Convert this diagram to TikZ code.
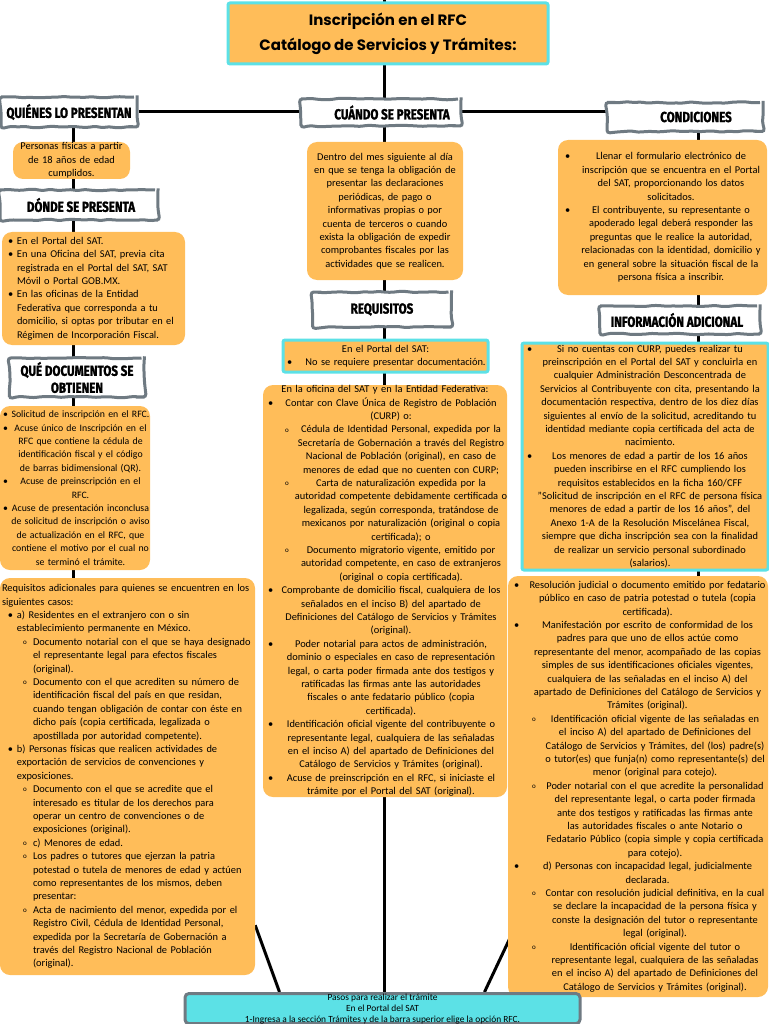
\documentclass[tikz,border=0pt]{standalone}
\usepackage{fontspec}
\setmainfont{Carlito}
\newfontfamily\judulfont{Poppins}
\newfontfamily\kepalafont[FakeStretch=0.8, BoldFeatures={FakeBold=1.5}]{Fira Sans}
\usetikzlibrary{backgrounds,decorations.pathmorphing}

\definecolor{jingga}{HTML}{FFBD59}
\definecolor{sian}{HTML}{5CE1E6}
\definecolor{abu}{HTML}{6F7A82}

% tanda butir dan baris tengah
\newcommand{\tb}[1]{\leavevmode\rlap{\hspace*{#1}\textbullet}}
\newcommand{\tc}[1]{\leavevmode\rlap{\hspace*{#1}\raisebox{0.15ex}{\scriptsize o}}}
\newcommand{\baris}[2]{\makebox[\linewidth]{\hspace*{#1}\hfill #2\hfill}}

\tikzset{
  garis/.style={line width=3pt, black},
  kepala/.style={draw=abu, line width=3pt, fill=white, rounded corners=3pt,
    decorate, decoration={random steps, segment length=7pt, amplitude=0.8pt},
    font=\kepalafont\bfseries\fontsize{14.5}{17}\selectfont, inner sep=0pt, align=center},
  kartu/.style={fill=jingga, rounded corners=10pt, inner sep=0pt,
    font=\fontsize{10.4}{13.4}\selectfont},
  kartusian/.style={kartu, draw=sian, line width=3pt, rounded corners=2pt}
}

\begin{document}
\begin{tikzpicture}[x=1pt,y=-1pt]
  \pgfmathsetseed{7}
  \useasboundingbox (0,0) rectangle (768,1024);

  % kolom
  \coordinate (atas) at (384,0);
  \coordinate (kiri) at (73,0);
  \coordinate (kanan) at (698,0);

  % judul
  \node[kartusian, align=center, minimum width=320pt, minimum height=61pt,
    font=\judulfont\bfseries\fontsize{15}{25}\selectfont] (judul) at (388,33.5)
    {Inscripción en el RFC\\Catálogo de Servicios y Trámites:};

  % kepala
  \node[kepala, minimum width=136pt, minimum height=30pt] (quienes) at (69,112) {QUIÉNES LO PRESENTAN};
  \node[kepala, minimum width=160pt, minimum height=27pt] (cuando) at (381,112.5) {\hspace*{22pt}CUÁNDO SE PRESENTA};
  \node[kepala, minimum width=156pt, minimum height=29pt] (condic) at (685,117) {\hspace*{22pt}CONDICIONES};
  \node[kepala, minimum width=158pt, minimum height=30pt] (donde) at (79,205) {\hspace*{4pt}DÓNDE SE PRESENTA};
  \node[kepala, minimum width=135pt, minimum height=39pt] (quedocs) at (77,377.5) {QUÉ DOCUMENTOS SE\\OBTIENEN};
  \node[kepala, minimum width=139pt, minimum height=35pt] (requi) at (382,309.5) {REQUISITOS};
  \node[kepala, minimum width=160pt, minimum height=28pt] (infoad) at (680,320) {INFORMACIÓN ADICIONAL\hspace*{6pt}};

  % kiri
  \node[kartu, align=center, text width=117pt, minimum height=37pt] (personas) at (71.5,160.5)
    {Personas físicas a partir\\de 18 años de edad\\cumplidos.};

  \node[kartu, align=left, text width=183pt, minimum height=113pt] (dondebox) at (93.5,288.5)
    {\tb{6pt}\hspace*{15pt}En el Portal del SAT.\\
     \tb{6pt}\hspace*{15pt}En una Oficina del SAT, previa cita\\
     \hspace*{15pt}registrada en el Portal del SAT, SAT\\
     \hspace*{15pt}Móvil o Portal GOB.MX.\\
     \tb{6pt}\hspace*{15pt}En las oficinas de la Entidad\\
     \hspace*{15pt}Federativa que corresponda a tu\\
     \hspace*{15pt}domicilio, si optas por tributar en el\\
     \hspace*{15pt}Régimen de Incorporación Fiscal.};

  \node[kartu, align=left, text width=150pt, minimum height=164pt,
    font=\fontsize{9.8}{13.4}\selectfont] (qdbox) at (75,488)
    {\tb{3pt}\baris{11pt}{Solicitud de inscripción en el RFC.}\\
     \tb{3pt}\baris{11pt}{Acuse único de Inscripción en el}\\
     \baris{11pt}{RFC que contiene la cédula de}\\
     \baris{11pt}{identificación fiscal y el código}\\
     \baris{11pt}{de barras bidimensional (QR).}\\
     \tb{3pt}\baris{11pt}{Acuse de preinscripción en el}\\
     \baris{11pt}{RFC.}\\
     \tb{3pt}\baris{11pt}{Acuse de presentación inconclusa}\\
     \baris{11pt}{de solicitud de inscripción o aviso}\\
     \baris{11pt}{de actualización en el RFC, que}\\
     \baris{11pt}{contiene el motivo por el cual no}\\
     \baris{11pt}{se terminó el trámite.}};

  \node[kartu, align=left, text width=255pt, minimum height=397pt] (reqadic) at (127.5,776.5)
    {\hspace*{2pt}Requisitos adicionales para quienes se encuentren en los\\
     \hspace*{2pt}siguientes casos:\\
     \tb{8pt}\hspace*{17pt}a) Residentes en el extranjero con o sin\\
     \hspace*{17pt}establecimiento permanente en México.\\
     \tc{23pt}\hspace*{33pt}Documento notarial con el que se haya designado\\
     \hspace*{33pt}el representante legal para efectos fiscales\\
     \hspace*{33pt}(original).\\
     \tc{23pt}\hspace*{33pt}Documento con el que acrediten su número de\\
     \hspace*{33pt}identificación fiscal del país en que residan,\\
     \hspace*{33pt}cuando tengan obligación de contar con éste en\\
     \hspace*{33pt}dicho país (copia certificada, legalizada o\\
     \hspace*{33pt}apostillada por autoridad competente).\\
     \tb{8pt}\hspace*{17pt}b) Personas físicas que realicen actividades de\\
     \hspace*{17pt}exportación de servicios de convenciones y\\
     \hspace*{17pt}exposiciones.\\
     \tc{23pt}\hspace*{33pt}Documento con el que se acredite que el\\
     \hspace*{33pt}interesado es titular de los derechos para\\
     \hspace*{33pt}operar un centro de convenciones o de\\
     \hspace*{33pt}exposiciones (original).\\
     \tc{23pt}\hspace*{33pt}c) Menores de edad.\\
     \tc{23pt}\hspace*{33pt}Los padres o tutores que ejerzan la patria\\
     \hspace*{33pt}potestad o tutela de menores de edad y actúen\\
     \hspace*{33pt}como representantes de los mismos, deben\\
     \hspace*{33pt}presentar:\\
     \tc{23pt}\hspace*{33pt}Acta de nacimiento del menor, expedida por el\\
     \hspace*{33pt}Registro Civil, Cédula de Identidad Personal,\\
     \hspace*{33pt}expedida por la Secretaría de Gobernación a\\
     \hspace*{33pt}través del Registro Nacional de Población\\
     \hspace*{33pt}(original).};

  % tengah
  \node[kartu, align=center, text width=156pt, minimum height=138pt] (dentro) at (385,211)
    {Dentro del mes siguiente al día\\
     en que se tenga la obligación de\\
     presentar las declaraciones\\
     periódicas, de pago o\\
     informativas propias o por\\
     cuenta de terceros o cuando\\
     exista la obligación de expedir\\
     comprobantes fiscales por las\\
     actividades que se realicen.};

  \node[kartusian, align=left, text width=205pt, minimum height=32pt] (portal) at (385.5,356)
    {\baris{0pt}{En el Portal del SAT:}\\
     \tb{4pt}\baris{20pt}{No se requiere presentar documentación.}};

  \node[kartu, align=left, text width=244pt, minimum height=412pt] (reqbig) at (385,591)
    {\baris{0pt}{En la oficina del SAT y en la Entidad Federativa:}\\
     \tb{5pt}\baris{12pt}{Contar con Clave Única de Registro de Población}\\
     \baris{12pt}{(CURP) o:}\\
     \tc{22pt}\baris{32pt}{Cédula de Identidad Personal, expedida por la}\\
     \baris{32pt}{Secretaría de Gobernación a través del Registro}\\
     \baris{32pt}{Nacional de Población (original), en caso de}\\
     \baris{32pt}{menores de edad que no cuenten con CURP;}\\
     \tc{22pt}\baris{32pt}{Carta de naturalización expedida por la}\\
     \baris{32pt}{autoridad competente debidamente certificada o}\\
     \baris{32pt}{legalizada, según corresponda, tratándose de}\\
     \baris{32pt}{mexicanos por naturalización (original o copia}\\
     \baris{32pt}{certificada); o}\\
     \tc{22pt}\baris{32pt}{Documento migratorio vigente, emitido por}\\
     \baris{32pt}{autoridad competente, en caso de extranjeros}\\
     \baris{32pt}{(original o copia certificada).}\\
     \tb{5pt}\baris{12pt}{Comprobante de domicilio fiscal, cualquiera de los}\\
     \baris{12pt}{señalados en el inciso B) del apartado de}\\
     \baris{12pt}{Definiciones del Catálogo de Servicios y Trámites}\\
     \baris{12pt}{(original).}\\
     \tb{5pt}\baris{12pt}{Poder notarial para actos de administración,}\\
     \baris{12pt}{dominio o especiales en caso de representación}\\
     \baris{12pt}{legal, o carta poder firmada ante dos testigos y}\\
     \baris{12pt}{ratificadas las firmas ante las autoridades}\\
     \baris{12pt}{fiscales o ante fedatario público (copia}\\
     \baris{12pt}{certificada).}\\
     \tb{5pt}\baris{12pt}{Identificación oficial vigente del contribuyente o}\\
     \baris{12pt}{representante legal, cualquiera de las señaladas}\\
     \baris{12pt}{en el inciso A) del apartado de Definiciones del}\\
     \baris{12pt}{Catálogo de Servicios y Trámites (original).}\\
     \tb{5pt}\baris{12pt}{Acuse de preinscripción en el RFC, si iniciaste el}\\
     \baris{12pt}{trámite por el Portal del SAT (original).}};

  % kanan
  \node[kartu, align=left, text width=209pt, minimum height=155pt] (llenar) at (662.5,217.5)
    {\tb{7pt}\baris{17pt}{Llenar el formulario electrónico de}\\
     \baris{17pt}{inscripción que se encuentra en el Portal}\\
     \baris{17pt}{del SAT, proporcionando los datos}\\
     \baris{17pt}{solicitados.}\\
     \tb{7pt}\baris{17pt}{El contribuyente, su representante o}\\
     \baris{17pt}{apoderado legal deberá responder las}\\
     \baris{17pt}{preguntas que le realice la autoridad,}\\
     \baris{17pt}{relacionadas con la identidad, domicilio y}\\
     \baris{17pt}{en general sobre la situación fiscal de la}\\
     \baris{17pt}{persona física a inscribir.}};

  \node[kartusian, align=left, text width=246pt, minimum height=227pt] (info) at (645,456.5)
    {\tb{5pt}\baris{10pt}{Si no cuentas con CURP, puedes realizar tu}\\
     \baris{10pt}{preinscripción en el Portal del SAT y concluirla en}\\
     \baris{10pt}{cualquier Administración Desconcentrada de}\\
     \baris{10pt}{Servicios al Contribuyente con cita, presentando la}\\
     \baris{10pt}{documentación respectiva, dentro de los diez días}\\
     \baris{10pt}{siguientes al envío de la solicitud, acreditando tu}\\
     \baris{10pt}{identidad mediante copia certificada del acta de}\\
     \baris{10pt}{nacimiento.}\\
     \tb{5pt}\baris{10pt}{Los menores de edad a partir de los 16 años}\\
     \baris{10pt}{pueden inscribirse en el RFC cumpliendo los}\\
     \baris{10pt}{requisitos establecidos en la ficha 160/CFF}\\
     \baris{10pt}{"Solicitud de inscripción en el RFC de persona física}\\
     \baris{10pt}{menores de edad a partir de los 16 años", del}\\
     \baris{10pt}{Anexo 1-A de la Resolución Miscelánea Fiscal,}\\
     \baris{10pt}{siempre que dicha inscripción sea con la finalidad}\\
     \baris{10pt}{de realizar un servicio personal subordinado}\\
     \baris{10pt}{(salarios).}};

  \node[kartu, align=left, text width=260pt, minimum height=421pt] (rightbig) at (638,786.5)
    {\tb{6pt}\baris{19pt}{Resolución judicial o documento emitido por fedatario}\\
     \baris{19pt}{público en caso de patria potestad o tutela (copia}\\
     \baris{19pt}{certificada).}\\
     \tb{6pt}\baris{19pt}{Manifestación por escrito de conformidad de los}\\
     \baris{19pt}{padres para que uno de ellos actúe como}\\
     \baris{19pt}{representante del menor, acompañado de las copias}\\
     \baris{19pt}{simples de sus identificaciones oficiales vigentes,}\\
     \baris{19pt}{cualquiera de las señaladas en el inciso A) del}\\
     \baris{19pt}{apartado de Definiciones del Catálogo de Servicios y}\\
     \baris{19pt}{Trámites (original).}\\
     \tc{24pt}\baris{34pt}{Identificación oficial vigente de las señaladas en}\\
     \baris{34pt}{el inciso A) del apartado de Definiciones del}\\
     \baris{34pt}{Catálogo de Servicios y Trámites, del (los) padre(s)}\\
     \baris{34pt}{o tutor(es) que funja(n) como representante(s) del}\\
     \baris{34pt}{menor (original para cotejo).}\\
     \tc{24pt}\baris{34pt}{Poder notarial con el que acredite la personalidad}\\
     \baris{34pt}{del representante legal, o carta poder firmada}\\
     \baris{34pt}{ante dos testigos y ratificadas las firmas ante}\\
     \baris{34pt}{las autoridades fiscales o ante Notario o}\\
     \baris{34pt}{Fedatario Público (copia simple y copia certificada}\\
     \baris{34pt}{para cotejo).}\\
     \tb{6pt}\baris{19pt}{d) Personas con incapacidad legal, judicialmente}\\
     \baris{19pt}{declarada.}\\
     \tc{24pt}\baris{34pt}{Contar con resolución judicial definitiva, en la cual}\\
     \baris{34pt}{se declare la incapacidad de la persona física y}\\
     \baris{34pt}{conste la designación del tutor o representante}\\
     \baris{34pt}{legal (original).}\\
     \tc{24pt}\baris{34pt}{Identificación oficial vigente del tutor o}\\
     \baris{34pt}{representante legal, cualquiera de las señaladas}\\
     \baris{34pt}{en el inciso A) del apartado de Definiciones del}\\
     \baris{34pt}{Catálogo de Servicios y Trámites (original).}};

  % bawah
  \node[draw=abu, line width=3pt, fill=sian, rounded corners=4pt, anchor=north,
    align=center, minimum width=395pt, inner ysep=0pt,
    font=\fontsize{9.4}{11}\selectfont] (pasos) at (382.5,992)
    {Pasos para realizar el trámite\\
     En el Portal del SAT\\
     1-Ingresa a la sección Trámites y de la barra superior elige la opción RFC.};

  % garis penghubung
  \begin{scope}[on background layer]
    \draw[garis] (atas) -- (atas |- pasos.north);
    \draw[garis] (quienes.east) -- (quienes.east -| condic.west);
    \draw[garis] (kiri |- quienes.south) -- (kiri |- reqadic.north);
    \draw[garis] (kanan |- condic.south) -- (kanan |- rightbig.north);
    \draw[garis] ([yshift=50pt]reqadic.south east) -- ([xshift=96pt]pasos.north west);
    \draw[garis] ([xshift=12pt,yshift=80pt]rightbig.south west) -- ([xshift=-97pt]pasos.north east);
  \end{scope}
\end{tikzpicture}
\end{document}
